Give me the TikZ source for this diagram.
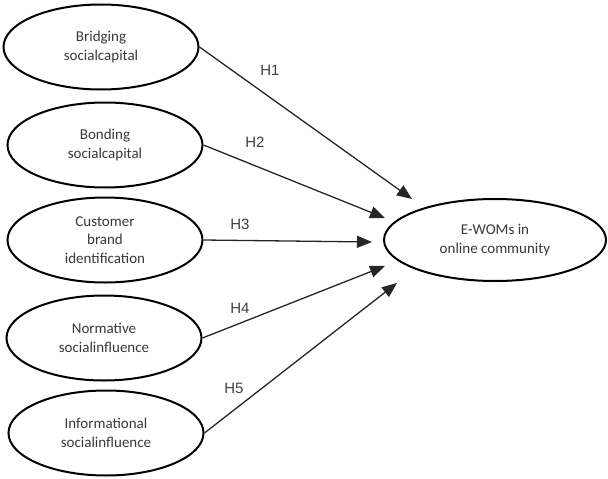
\documentclass[tikz,border=0pt]{standalone}
\usepackage{fontspec}
\setmainfont{Carlito}
\newfontfamily\hfont{Liberation Sans}
\usetikzlibrary{arrows.meta,shapes.geometric}
\begin{document}
\begin{tikzpicture}[x=1pt,y=-1pt,
  construct/.style={draw=black,line width=2pt,ellipse,inner sep=0pt,
    minimum width=195pt,minimum height=85pt,align=center,
    text=black!78,font=\fontsize{15}{18.5}\selectfont},
  path/.style={draw=black!85,line width=1.3pt,-{Triangle[length=15pt,width=12pt]}},
  hlabel/.style={text=black!75,font=\hfont\fontsize{15}{18}\selectfont,inner sep=0pt}]
\useasboundingbox (0,0) rectangle (608,479);
\node[construct] (e1) at (101,47) {Bridging\\socialcapital};
\node[construct] (e2) at (105,145) {Bonding\\socialcapital};
\node[construct] (e3) at (105,240) {Customer\\brand\\identification};
\node[construct] (e4) at (104,338) {Normative\\socialinfluence};
\node[construct] (e5) at (106,433) {Informational\\socialinfluence};
\node[construct,minimum width=222pt,minimum height=82pt] (y) at (495,240) {E-WOMs in\\online community};
\coordinate (t1) at (412,199);
\coordinate (t2) at (385,218);
\coordinate (t3) at (372,242);
\coordinate (t4) at (385,266);
\coordinate (t5) at (397,283);
\draw[path] (e1.east) -- (t1);
\draw[path] (e2.east) -- (t2);
\draw[path] (e3.east) -- (t3);
\draw[path] (e4.east) -- (t4);
\draw[path] (e5.east) -- (t5);
\node[hlabel] (h1) at (270,70) {H1};
\node[hlabel] (h2) at (255,142) {H2};
\node[hlabel] (h3) at (240,224) {H3};
\node[hlabel] (h4) at (240,308) {H4};
\node[hlabel] (h5) at (234,388) {H5};
\end{tikzpicture}
\end{document}
